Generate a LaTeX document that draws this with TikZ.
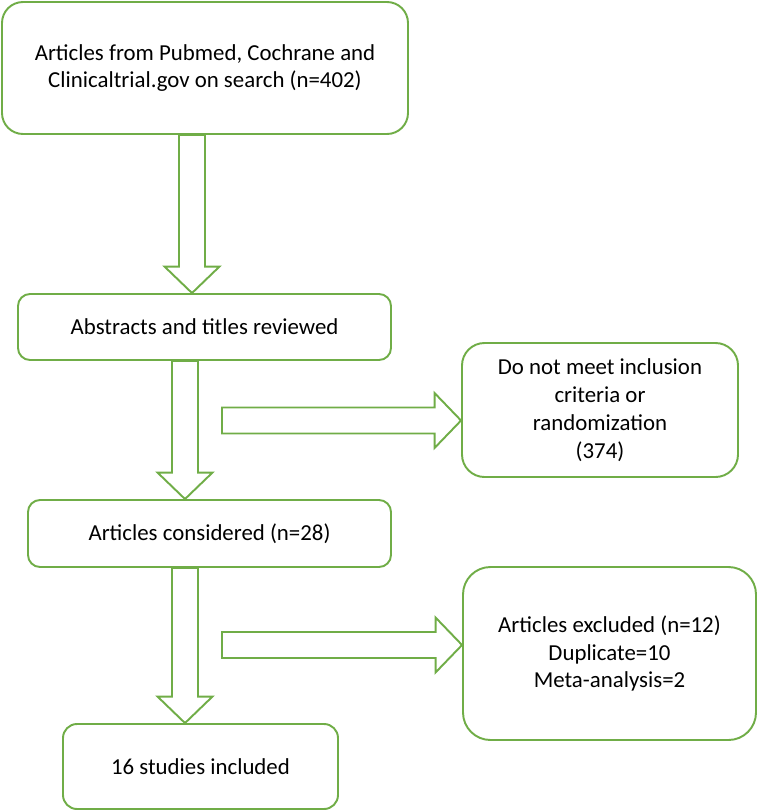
\documentclass[tikz,border=0pt]{standalone}
\usepackage{fontspec}
\setmainfont{Carlito}
\usetikzlibrary{calc}
\definecolor{flowgreen}{HTML}{70AD47}

\begin{document}
\begin{tikzpicture}[line cap=round,line join=round,
  box/.style={draw=flowgreen,line width=1.1pt,align=center,inner sep=0pt,
    font=\fontsize{13}{15.8}\selectfont},
  blockarrow/.style={draw=flowgreen,line width=1.1pt,line join=miter,
    to path={($(\tikztostart)!0.26cm!90:(\tikztotarget)$)
      -- ($(\tikztotarget)!0.53cm!(\tikztostart)!0.26cm!90:(\tikztotarget)$)
      -- ($(\tikztotarget)!0.53cm!(\tikztostart)!0.55cm!90:(\tikztotarget)$)
      -- (\tikztotarget)
      -- ($(\tikztotarget)!0.53cm!(\tikztostart)!0.55cm!-90:(\tikztotarget)$)
      -- ($(\tikztotarget)!0.53cm!(\tikztostart)!0.26cm!-90:(\tikztotarget)$)
      -- ($(\tikztostart)!0.26cm!-90:(\tikztotarget)$) -- cycle}}]
  \useasboundingbox (0,0) rectangle (15.16,-16.22);
  \node[box,minimum width=8.12cm,minimum height=2.64cm,rounded corners=0.42cm] (search) at (4.10,-1.36)
    {Articles from Pubmed, Cochrane and\\Clinicaltrial.gov on search (n=402)};
  \node[box,minimum width=7.46cm,minimum height=1.32cm,rounded corners=0.24cm] (abstracts) at (4.09,-6.54)
    {Abstracts and titles reviewed};
  \node[box,minimum width=7.26cm,minimum height=1.34cm,rounded corners=0.24cm] (considered) at (4.19,-10.67)
    {Articles considered (n=28)};
  \node[box,minimum width=5.52cm,minimum height=2.68cm,rounded corners=0.45cm] (nomeet) at (12.00,-8.20)
    {Do not meet inclusion\\criteria or\\randomization\\(374)};
  \node[box,minimum width=5.86cm,minimum height=3.46cm,rounded corners=0.55cm] (excluded) at (12.19,-13.07)
    {Articles excluded (n=12)\\Duplicate=10\\Meta-analysis=2};
  \node[box,minimum width=5.50cm,minimum height=1.70cm,rounded corners=0.28cm] (included) at (4.01,-15.33)
    {16 studies included};
  \coordinate (col1) at (3.84,0);
  \coordinate (col2) at (3.70,0);
  \coordinate (tailA) at (4.44,-8.41);
  \coordinate (tailB) at (4.44,-12.90);
  \draw[blockarrow] (search.south -| col1) to (abstracts.north -| col1);
  \draw[blockarrow] (abstracts.south -| col2) to (considered.north -| col2);
  \draw[blockarrow] (considered.south -| col2) to (included.north -| col2);
  \draw[blockarrow] (tailA) to (nomeet.west |- tailA);
  \draw[blockarrow] (tailB) to (excluded.west |- tailB);
\end{tikzpicture}
\end{document}
